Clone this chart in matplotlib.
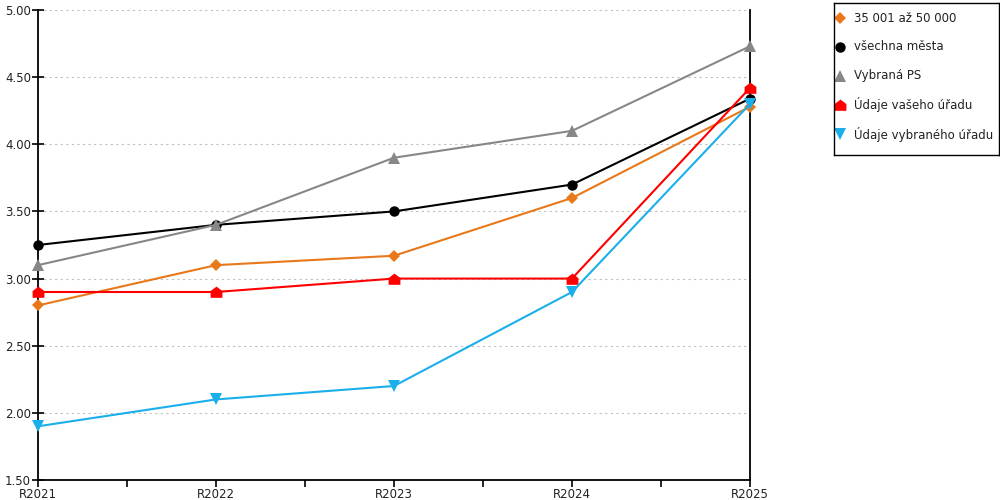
import numpy as np
import matplotlib.pyplot as plt
from matplotlib.path import Path
from matplotlib.ticker import MultipleLocator

plt.rcParams['font.family'] = ['DejaVu Sans']

# data
roky = ['R2021', 'R2022', 'R2023', 'R2024', 'R2025']
skupina = [2.80, 3.10, 3.17, 3.60, 4.28]
vsechna_mesta = [3.25, 3.40, 3.50, 3.70, 4.34]
vybrana_ps = [3.10, 3.40, 3.90, 4.10, 4.73]
vas_urad = [2.90, 2.90, 3.00, 3.00, 4.42]
vybrany_urad = [1.90, 2.10, 2.20, 2.90, 4.30]

nazvy = ['35 001 až 50 000', 'všechna města', 'Vybraná PS',
         'Údaje vašeho úřadu', 'Údaje vybraného úřadu']

# "domecek" marker
domek = Path([(-1, -0.9), (1, -0.9), (1, 0.25), (0, 1), (-1, 0.25), (-1, -0.9)],
             [Path.MOVETO, Path.LINETO, Path.LINETO, Path.LINETO, Path.LINETO, Path.CLOSEPOLY])

serie = [
    (skupina, '#E8781A', 'D', 6.3),
    (vsechna_mesta, '#000000', 'o', 7.5),
    (vybrana_ps, '#878787', '^', 8.5),
    (vas_urad, '#FF0000', domek, 8.5),
    (vybrany_urad, '#1AAFEA', 'v', 8.5),
]

fig = plt.figure(figsize=(10, 5), dpi=100)
ax = fig.add_axes([0.038, 0.04, 0.712, 0.94])

x = np.arange(len(roky))
for (hodnoty, barva, znacka, vel), nazev in zip(serie, nazvy):
    ax.plot(x, hodnoty, color=barva, lw=1.5, marker=znacka, markersize=vel,
            markeredgewidth=0, label=nazev, clip_on=False, zorder=3)

ax.set_xlim(0, 4)
ax.set_ylim(1.5, 5.0)
ax.set_xticks(x)
ax.set_xticklabels(roky)
ax.xaxis.set_minor_locator(MultipleLocator(0.5))
ax.set_yticks(np.arange(1.5, 5.01, 0.5))
ax.set_yticklabels(['%.2f' % v for v in np.arange(1.5, 5.01, 0.5)])

ax.grid(axis='y', color='#c0c0c0', linestyle=(0, (2, 3)), lw=0.8)
ax.set_axisbelow(True)
ax.spines['top'].set_visible(False)
for s in ['left', 'right', 'bottom']:
    ax.spines[s].set_linewidth(1.3)
    ax.spines[s].set_color('black')

ax.tick_params(axis='y', direction='inout', length=8, width=1.2, labelsize=8.5, pad=1,
               labelcolor='#222222')
ax.tick_params(axis='x', which='both', direction='out', length=5, width=1.2, labelsize=8.5,
               pad=1, labelcolor='#222222')

# legenda - vlastni ramecek v pixelech
lax = fig.add_axes([0.834, 0.69, 0.165, 0.304])
lax.set_xlim(0, 165)
lax.set_ylim(152, 0)
lax.set_xticks([])
lax.set_yticks([])
for s in lax.spines.values():
    s.set_linewidth(1)
    s.set_color('black')
for i, ((_, barva, znacka, vel), nazev) in enumerate(zip(serie, nazvy)):
    yy = 15 + 29 * i
    lax.plot([6], [yy], color=barva, marker=znacka, markersize=vel, markeredgewidth=0,
             linestyle='none')
    lax.text(20, yy, nazev, fontsize=8.5, va='center', ha='left', color='#222222')

fig.savefig('out.png', dpi=100)
